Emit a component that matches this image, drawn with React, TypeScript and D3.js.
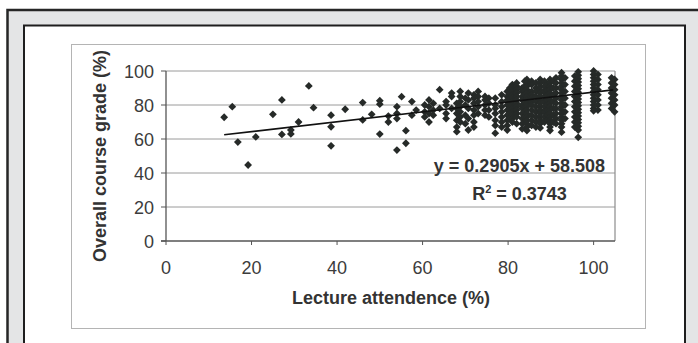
import React from 'react';
import * as d3 from 'd3';

// ---------- data ----------
const xTicks = [0, 20, 40, 60, 80, 100];
const yTicks = [0, 20, 40, 60, 80, 100];
const xTitle = 'Lecture attendence (%)';
const yTitle = 'Overall course grade (%)';
const equationText = 'y = 0.2905x + 58.508';
const rSquaredValue = '0.3743';
const trendSlope = 0.2905;
const trendIntercept = 58.508;
const trendRange = [13.6, 104.6];

// scattered students with lower attendance
const sparseAttendance = [13.6, 15.5, 16.8, 19.2, 21, 25, 27.1, 27.1, 29.2, 29.2, 31, 33.4, 34.5, 38.6, 38.6, 38.6, 41.9, 46, 46, 48.1, 50, 50, 50, 52, 52, 54, 54, 54, 54, 55.1, 56.1, 56.1, 57.5, 57.5, 58.5];
const sparseGrade = [72.8, 79, 58.2, 44.7, 61.2, 74.5, 83, 62.7, 65.3, 63, 70, 91.2, 78.4, 74, 67.2, 56, 77.5, 81.4, 71.2, 74.5, 82.5, 80.5, 62.9, 73.5, 70, 79, 75, 72, 53.5, 84.9, 64.9, 57.5, 82, 74, 77];

// dense columns of students with higher attendance
const columnAttendance = [60.5, 61.5, 62.5, 64, 65.5, 66.8, 68, 68.8, 70, 70.7, 72, 73, 74.6, 75.5, 77, 78.5, 79.8, 80.4, 81, 82, 83.3, 83.9, 84.4, 85.5, 86.5, 87.5, 88.5, 89.2, 89.8, 90.6, 91.2, 92.5, 93.3, 95.6, 96.4, 100, 101, 104.2, 104.9];
const columnGrades = [
  [80, 76, 73],
  [83, 79, 75, 70],
  [81, 77, 74],
  [89, 78],
  [82, 80, 75, 72],
  [87, 85, 78],
  [81, 78, 75, 71, 67, 64.3],
  [88, 85, 82, 79, 76, 73, 70],
  [84, 80, 74, 69],
  [87, 83, 78, 72, 65.3],
  [86, 84, 81, 77, 74, 70, 67],
  [88, 85, 82, 79, 75],
  [85, 83, 80, 77, 74],
  [84, 81, 77, 73],
  [84, 80, 78, 75, 71, 68, 63.4],
  [86, 82, 79, 76, 73, 70, 67],
  [88, 85, 83, 80, 77, 74, 71, 68, 65.3],
  [90, 87, 84, 81, 78, 75, 72],
  [92, 90, 88, 86, 84, 82, 80, 78, 76, 74, 72, 70],
  [93, 91, 89, 87, 85, 83, 81, 79, 77, 75, 73, 69],
  [90, 88, 85, 83, 80, 78, 75, 72, 69, 66],
  [94, 91, 88, 86, 82, 79, 76, 73, 70],
  [95, 93, 91, 89, 87, 85, 83, 81, 79, 77, 75, 73, 71, 69, 67, 65],
  [94, 92, 88, 86, 84, 82, 80, 77, 74, 71, 68],
  [93, 90, 88, 85, 82, 79, 76, 73, 70, 67],
  [95, 93, 91, 89, 87, 85, 83, 81, 79, 77, 75, 73, 71, 69, 66.5],
  [94, 91, 88, 85, 82, 79, 76, 73, 70],
  [92, 89, 86, 83, 80, 77, 74, 71],
  [95, 93, 91, 89, 87, 85, 83, 81, 79, 77, 75, 73, 71, 69, 67, 65],
  [94, 90, 86, 82, 78, 74, 70],
  [96, 93, 90, 87, 84, 81, 78, 75, 72, 69],
  [99, 97, 95, 93, 91, 89, 87, 85, 83, 81, 79, 77, 75, 73, 71, 69, 67, 64],
  [96, 92, 88, 84, 80, 76, 72],
  [97, 94, 91, 88, 85, 82, 79, 76, 73, 70, 67],
  [99.5, 97.5, 95.5, 93.5, 91.5, 89.5, 87.5, 85.5, 83.5, 81.5, 79.5, 77.5, 75.5, 73.5, 71.5, 69.5, 67.5, 65.3, 61],
  [100, 98, 96, 94, 92, 90, 88, 86, 84, 82, 80, 78, 76.6],
  [98, 95, 92, 89, 86, 83, 80, 77],
  [96, 93, 90, 87, 84, 81, 78],
  [95, 92, 89, 86, 83, 80, 76],
];

// ---------- component ----------
export default function App() {
  const x = d3.scaleLinear().domain([0, 105]).range([166, 615]);
  const y = d3.scaleLinear().domain([0, 100]).range([241, 71]);

  const points: [number, number][] = [];
  sparseAttendance.forEach((a, i) => points.push([a, sparseGrade[i]]));
  columnAttendance.forEach((a, i) => columnGrades[i].forEach((g) => points.push([a, g])));

  const r = 3.9;
  const diamond = d3.line()([[0, -r], [r, 0], [0, r], [-r, 0]]) + 'Z';

  const trend = d3
    .line<number>()
    .x((d) => x(d))
    .y((d) => y(trendSlope * d + trendIntercept))(trendRange);

  const font = '"Liberation Sans", Arial, sans-serif';

  return (
    <svg
      width={698}
      height={343}
      style={{ position: 'absolute', left: 0, top: 0, display: 'block' }}
      fontFamily={font}
    >
      <rect x={0} y={0} width={698} height={343} fill="#ffffff" />
      {/* outer grey frame */}
      <rect x={7.5} y={10} width={720} height={360} fill="#e4e5e6" stroke="#262626" strokeWidth={2.5} />
      {/* inner white box */}
      <rect x={24} y={25.5} width={661} height={340} fill="#ffffff" stroke="#1e1e1e" strokeWidth={2} />
      {/* chart area */}
      <rect x={71.5} y={44.5} width={574} height={284} fill="#ffffff" stroke="#b4b4b4" strokeWidth={1} />

      {/* gridlines */}
      {yTicks.filter((t) => t > 0).map((t) => (
        <line key={'g' + t} x1={x(0)} x2={x(105)} y1={y(t)} y2={y(t)} stroke="#9a9a9a" strokeWidth={1} />
      ))}
      {/* plot right border */}
      <line x1={x(105)} x2={x(105)} y1={y(100)} y2={y(0)} stroke="#8c8c8c" strokeWidth={1.2} />

      {/* axes */}
      <line x1={x(0)} x2={x(0)} y1={y(100)} y2={y(0)} stroke="#555" strokeWidth={1.3} />
      <line x1={x(0) - 5} x2={x(105)} y1={y(0)} y2={y(0)} stroke="#555" strokeWidth={1.5} />
      {yTicks.map((t) => (
        <line key={'yt' + t} x1={x(0) - 5} x2={x(0)} y1={y(t)} y2={y(t)} stroke="#555" strokeWidth={1} />
      ))}
      {xTicks.map((t) => (
        <line key={'xt' + t} x1={x(t)} x2={x(t)} y1={y(0)} y2={y(0) + 4} stroke="#555" strokeWidth={1} />
      ))}

      {/* tick labels */}
      {yTicks.map((t) => (
        <text key={'yl' + t} x={x(0) - 12} y={y(t) + 6.5} textAnchor="end" fontSize={18} fill="#3c3c3c">
          {t}
        </text>
      ))}
      {xTicks.map((t) => (
        <text key={'xl' + t} x={x(t)} y={y(0) + 33} textAnchor="middle" fontSize={18} fill="#3c3c3c">
          {t}
        </text>
      ))}

      {/* points */}
      {points.map(([a, g], i) => (
        <path key={'p' + i} d={diamond} transform={`translate(${x(a)},${y(g)})`} fill="#262a28" />
      ))}

      {/* trendline */}
      <path d={trend || ''} stroke="#111" strokeWidth={1.6} fill="none" />

      {/* equation */}
      <text x={605} y={171.5} textAnchor="end" fontSize={18} fontWeight="bold" fill="#333">
        {equationText}
      </text>
      <text x={519.5} y={199.5} textAnchor="middle" fontSize={18} fontWeight="bold" fill="#333">
        R<tspan dy={-7} fontSize={11}>2</tspan>
        <tspan dy={7}>{' = ' + rSquaredValue}</tspan>
      </text>

      {/* axis titles */}
      <text x={391} y={304} textAnchor="middle" fontSize={18} fontWeight="bold" fill="#333">
        {xTitle}
      </text>
      <text
        transform={`translate(106,${(y(0) + y(100)) / 2}) rotate(-90)`}
        textAnchor="middle"
        fontSize={18}
        fontWeight="bold"
        fill="#333"
      >
        {yTitle}
      </text>
    </svg>
  );
}
